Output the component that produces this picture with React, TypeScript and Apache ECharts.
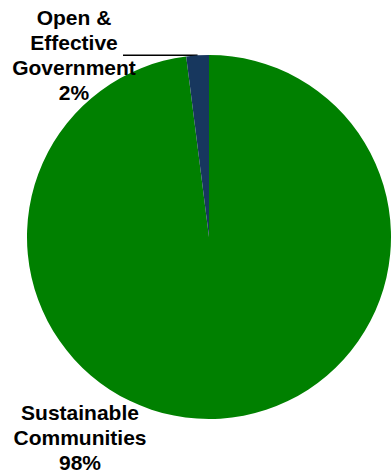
import React, { useEffect, useRef } from "react";
import * as echarts from "echarts";

const categories = ["Sustainable\nCommunities", "Open &\nEffective\nGovernment"];
const values = [98, 2];
const colors = ["#008000", "#17375E"];

export default function App() {
  const ref = useRef<HTMLDivElement>(null);
  useEffect(() => {
    document.body.style.margin = "0";
    const chart = echarts.init(ref.current!, null, { renderer: "svg" });
    const labelPos = [
      { x: 80, y: 437, line: null },
      { x: 74, y: 55, line: true },
    ];
    chart.setOption({
      animation: false,
      backgroundColor: "#ffffff",
      series: [
        {
          type: "pie",
          center: [209, 237],
          radius: 182,
          startAngle: 90,
          clockwise: true,
          percentPrecision: 0,
          data: categories.map((c, i) => ({
            name: c,
            value: values[i],
            itemStyle: { color: colors[i] },
            labelLine: { show: i === 1 },
          })),
          label: {
            show: true,
            position: "outside",
            formatter: "{b}\n{d}%",
            fontFamily: "'Liberation Sans', Arial, sans-serif",
            fontWeight: "bold",
            fontSize: 21,
            lineHeight: 25,
            color: "#000000",
            align: "center",
            overflow: "none",
            width: 200,
          },
          labelLine: {
            show: true,
            lineStyle: { color: "#000000", width: 1.5 },
          },
          labelLayout: (params: any) => {
            const p = labelPos[params.dataIndex];
            const res: any = {
              x: p.x,
              y: p.y,
              align: "center",
              verticalAlign: "middle",
            };
            if (p.line && params.labelLinePoints) {
              const start = params.labelLinePoints[0];
              res.labelLinePoints = [
                [start[0], start[1]],
                [160, start[1]],
                [123, start[1]],
              ];
            }
            return res;
          },
        },
      ],
    });
    return () => chart.dispose();
  }, []);
  return <div ref={ref} style={{ width: 391, height: 476 }} />;
}
